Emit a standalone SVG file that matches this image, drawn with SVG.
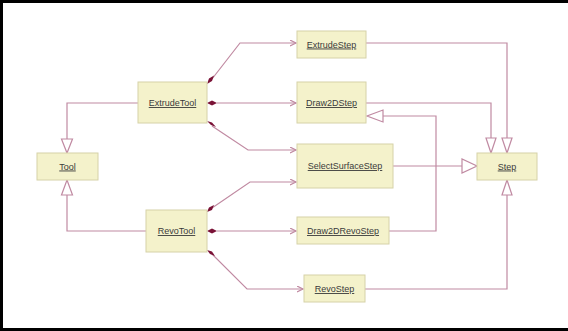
<svg xmlns="http://www.w3.org/2000/svg" width="568" height="331" viewBox="0 0 568 331">
<style>
.n{fill:#f4f2cb;stroke:#d6d2a8;stroke-width:1}
.t{font-family:"Liberation Sans",Arial,sans-serif;font-size:9px;fill:#3a3a3a;text-anchor:middle;text-decoration:underline}
.c{fill:none;stroke:#c08aa2;stroke-width:1.2}
.tri{fill:#fff;stroke:#c08aa2;stroke-width:1.2}
.dia{fill:#7a1236;stroke:none}
</style>
<defs>
<marker id="open" markerWidth="8" markerHeight="8" refX="6" refY="3" orient="auto" markerUnits="userSpaceOnUse">
<path d="M0,0 L6,3 L0,6" fill="none" stroke="#c08aa2" stroke-width="1.2"/>
</marker>
</defs>
<rect x="0" y="0" width="568" height="331" fill="#fff"/>
<path d="M1.5,331 V1.5 H568 M0,329.5 H568" fill="none" stroke="#000" stroke-width="3"/>
<g id="connectors">
<path class="c" d="M138,103 H67 V139"/>
<polygon class="tri" points="61.5,139 72.5,139 67,153"/>
<path class="c" d="M146,231 H67 V195"/>
<polygon class="tri" points="61.5,195 72.5,195 67,180"/>
<path class="c" d="M366,43 H507 V138"/>
<polygon class="tri" points="502,138 512,138 507,153"/>
<path class="c" d="M366,103 H491 V138"/>
<polygon class="tri" points="486,138 496,138 491,153"/>
<path class="c" d="M393,166 H462"/>
<polygon class="tri" points="462,159 462,173 477,166"/>
<path class="c" d="M389,231 H436 V116 H383"/>
<polygon class="tri" points="383,110 383,122 367,116"/>
<path class="c" d="M365,289 H507 V195"/>
<polygon class="tri" points="502,195 512,195 507,180"/>
<path class="c" d="M212,79 L240,43 H296" marker-end="url(#open)"/>
<path class="c" d="M217,103 H296" marker-end="url(#open)"/>
<path class="c" d="M212,126 L248,150 H296" marker-end="url(#open)"/>
<path class="c" d="M212,208 L250,182 H296" marker-end="url(#open)"/>
<path class="c" d="M217,231 H296" marker-end="url(#open)"/>
<path class="c" d="M212,254 L247,289 H303" marker-end="url(#open)"/>
<polygon class="dia" points="207,84 209,78.5 214,75.5 212,81"/>
<polygon class="dia" points="207,103 212,100.5 217,103 212,105.5"/>
<polygon class="dia" points="207,121 212,122.5 216,127 211,125"/>
<polygon class="dia" points="207,212 209,207.5 214,205 212,210"/>
<polygon class="dia" points="207,231 212,228.5 217,231 212,233.5"/>
<polygon class="dia" points="207,250 212,251.5 215,256 210,254"/>
</g>
<g id="ExtrudeTool"><rect class="n" x="138" y="82" width="69" height="41"/><text class="t" x="172.5" y="106">ExtrudeTool</text></g>
<g id="Tool"><rect class="n" x="37" y="153" width="61" height="27"/><text class="t" x="67.5" y="169.5">Tool</text></g>
<g id="RevoTool"><rect class="n" x="146" y="210" width="61" height="42"/><text class="t" x="176.5" y="234">RevoTool</text></g>
<g id="ExtrudeStep"><rect class="n" x="297" y="31" width="69" height="27"/><text class="t" x="331.5" y="47.5">ExtrudeStep</text></g>
<g id="Draw2DStep"><rect class="n" x="297" y="82" width="69" height="41"/><text class="t" x="331.5" y="106">Draw2DStep</text></g>
<g id="SelectSurfaceStep"><rect class="n" x="297" y="144" width="96" height="44"/><text class="t" x="345" y="169">SelectSurfaceStep</text></g>
<g id="Draw2DRevoStep"><rect class="n" x="297" y="217" width="92" height="27"/><text class="t" x="343" y="234">Draw2DRevoStep</text></g>
<g id="RevoStep"><rect class="n" x="304" y="275" width="61" height="27"/><text class="t" x="334.5" y="292">RevoStep</text></g>
<g id="Step"><rect class="n" x="477" y="153" width="60" height="27"/><text class="t" x="507" y="169.5">Step</text></g>
</svg>
